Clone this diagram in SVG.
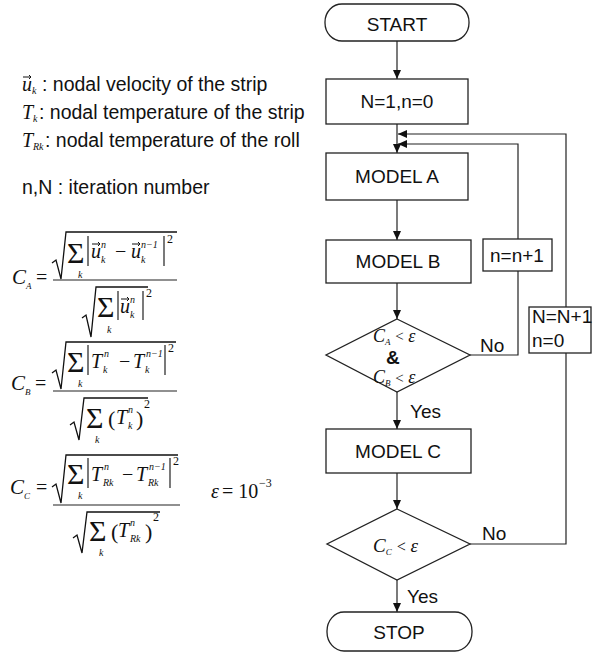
<svg xmlns="http://www.w3.org/2000/svg" width="594" height="653" viewBox="0 0 594 653">
<defs>
<style>
.s{font-family:"Liberation Sans",Arial,sans-serif;font-size:19.5px;fill:#111}
.f{font-family:"Liberation Sans",Arial,sans-serif;font-size:19px;fill:#111}
.m{font-family:"Liberation Serif","Times New Roman",serif;font-style:italic;fill:#111}
.r{font-family:"Liberation Serif","Times New Roman",serif;fill:#111}
.box{fill:#fff;stroke:#222;stroke-width:1.3}
.ln{fill:none;stroke:#222;stroke-width:1.2}
.rad{fill:none;stroke:#111;stroke-width:1.3;stroke-linejoin:miter}
.vec{fill:none;stroke:#111;stroke-width:1}
</style>
<marker id="ah" markerUnits="userSpaceOnUse" markerWidth="10" markerHeight="8" refX="9" refY="4" orient="auto">
<path d="M0 0 L9 4 L0 8 Z" fill="#111"/>
</marker>
</defs>
<rect width="594" height="653" fill="#fff"/>

<g id="legend">
<text class="m" x="22" y="91" font-size="20">u</text>
<path class="vec" d="M23 77 h8 M29 75 l2 2 l-2 2"/>
<text class="m" x="32" y="94" font-size="10">k</text>
<text class="s" x="42" y="91">: nodal velocity of the strip</text>
<text class="m" x="22" y="119" font-size="20">T</text>
<text class="m" x="33" y="122" font-size="10">k</text>
<text class="s" x="39" y="119">: nodal temperature of the strip</text>
<text class="m" x="22" y="147" font-size="20">T</text>
<text class="m" x="33" y="150" font-size="10">Rk</text>
<text class="s" x="45" y="147">: nodal temperature of the roll</text>
<text class="s" x="22" y="194">n,N : iteration number</text>
</g>

<g id="formula-CA">
<text class="m" x="12" y="284" font-size="21">C</text>
<text class="m" x="26" y="289" font-size="9">A</text>
<text class="r" x="36" y="284" font-size="20">=</text>
<path class="ln" d="M53 280 H177"/>
<path class="rad" d="M52 263 L56 260 L61 279 L66 232 H177"/>
<text class="r" x="67" y="263" font-size="30">Σ</text>
<text class="m" x="78" y="278" font-size="10">k</text>
<path class="ln" d="M88 236 V266 M164 236 V266"/>
<text class="m" x="91" y="258" font-size="20">u</text>
<path class="vec" d="M92 244 h8 M98 242 l2 2 l-2 2"/>
<text class="m" x="101" y="248" font-size="10">n</text>
<text class="m" x="101" y="263" font-size="10">k</text>
<text class="r" x="115" y="258" font-size="20">−</text>
<text class="m" x="131" y="258" font-size="20">u</text>
<path class="vec" d="M132 244 h8 M138 242 l2 2 l-2 2"/>
<text class="m" x="141" y="248" font-size="10">n−1</text>
<text class="m" x="141" y="263" font-size="10">k</text>
<text class="r" x="167" y="243" font-size="12">2</text>
<path class="rad" d="M82 318 L86 315 L91 337 L96 287 H148"/>
<text class="r" x="97" y="317" font-size="30">Σ</text>
<text class="m" x="107" y="333" font-size="10">k</text>
<path class="ln" d="M118 291 V320 M143 291 V320"/>
<text class="m" x="120" y="313" font-size="20">u</text>
<path class="vec" d="M121 299 h8 M127 297 l2 2 l-2 2"/>
<text class="m" x="130" y="303" font-size="10">n</text>
<text class="m" x="130" y="318" font-size="10">k</text>
<text class="r" x="146" y="297" font-size="12">2</text>
</g>

<g id="formula-CB">
<text class="m" x="11" y="390" font-size="21">C</text>
<text class="m" x="25" y="395" font-size="9">B</text>
<text class="r" x="35" y="390" font-size="20">=</text>
<path class="ln" d="M53 391 H177"/>
<path class="rad" d="M52 373 L56 370 L61 389 L66 342 H176"/>
<text class="r" x="67" y="372" font-size="30">Σ</text>
<text class="m" x="78" y="387" font-size="10">k</text>
<path class="ln" d="M88 345 V375 M165 345 V375"/>
<text class="m" x="91" y="368" font-size="20">T</text>
<text class="m" x="104" y="357" font-size="10">n</text>
<text class="m" x="103" y="373" font-size="10">k</text>
<text class="r" x="119" y="368" font-size="20">−</text>
<text class="m" x="133" y="368" font-size="20">T</text>
<text class="m" x="146" y="357" font-size="10">n−1</text>
<text class="m" x="145" y="373" font-size="10">k</text>
<text class="r" x="168" y="352" font-size="12">2</text>
<path class="rad" d="M70 425 L74 422 L79 440 L84 398 H148"/>
<text class="r" x="86" y="428" font-size="30">Σ</text>
<text class="m" x="95" y="443" font-size="10">k</text>
<text class="r" x="108" y="426" font-size="22">(</text>
<text class="m" x="116" y="424" font-size="20">T</text>
<text class="m" x="128" y="413" font-size="10">n</text>
<text class="m" x="128" y="429" font-size="10">k</text>
<text class="r" x="136" y="426" font-size="22">)</text>
<text class="r" x="144" y="408" font-size="12">2</text>
</g>

<g id="formula-CC">
<text class="m" x="10" y="494" font-size="21">C</text>
<text class="m" x="24" y="499" font-size="9">C</text>
<text class="r" x="36" y="494" font-size="20">=</text>
<path class="ln" d="M53 505 H180"/>
<path class="rad" d="M52 487 L56 484 L61 503 L66 455 H178"/>
<text class="r" x="67" y="484" font-size="30">Σ</text>
<text class="m" x="78" y="499" font-size="10">k</text>
<path class="ln" d="M88 458 V488 M170 458 V488"/>
<text class="m" x="91" y="481" font-size="20">T</text>
<text class="m" x="104" y="470" font-size="10">n</text>
<text class="m" x="103" y="486" font-size="10">Rk</text>
<text class="r" x="122" y="481" font-size="20">−</text>
<text class="m" x="136" y="481" font-size="20">T</text>
<text class="m" x="149" y="470" font-size="10">n−1</text>
<text class="m" x="148" y="486" font-size="10">Rk</text>
<text class="r" x="173" y="465" font-size="12">2</text>
<path class="rad" d="M73 538 L77 535 L82 553 L87 512 H160"/>
<text class="r" x="89" y="541" font-size="30">Σ</text>
<text class="m" x="99" y="556" font-size="10">k</text>
<text class="r" x="111" y="539" font-size="22">(</text>
<text class="m" x="118" y="537" font-size="20">T</text>
<text class="m" x="130" y="526" font-size="10">n</text>
<text class="m" x="130" y="542" font-size="10">Rk</text>
<text class="r" x="145" y="539" font-size="22">)</text>
<text class="r" x="153" y="521" font-size="12">2</text>
<text class="m" x="211" y="498" font-size="20">ε</text>
<text class="r" x="222" y="498" font-size="20">= 10</text>
<text class="r" x="259" y="487" font-size="12">−3</text>
</g>

<g id="connectors">
<path class="ln" d="M397 41 V79" marker-end="url(#ah)"/>
<path class="ln" d="M397 124 V153" marker-end="url(#ah)"/>
<path class="ln" d="M397 200 V240" marker-end="url(#ah)"/>
<path class="ln" d="M397 283 V319" marker-end="url(#ah)"/>
<path class="ln" d="M397 392 V429" marker-end="url(#ah)"/>
<path class="ln" d="M397 473 V509" marker-end="url(#ah)"/>
<path class="ln" d="M397 580 V612" marker-end="url(#ah)"/>
<path class="ln" d="M470 355 H518 V271"/>
<path class="ln" d="M518 239 V144 H398" marker-end="url(#ah)"/>
<path class="ln" d="M470 544 H566 V353"/>
<path class="ln" d="M566 307 V134 H398" marker-end="url(#ah)"/>
<text class="f" x="480" y="352">No</text>
<text class="f" x="410" y="418">Yes</text>
<text class="f" x="482" y="540">No</text>
<text class="f" x="407" y="603">Yes</text>
</g>

<g id="start">
<rect class="box" x="325" y="4" width="144" height="37" rx="17" ry="18"/>
<text class="f" x="397" y="31" text-anchor="middle">START</text>
</g>
<g id="init">
<rect class="box" x="326" y="79" width="142" height="45"/>
<text class="f" x="397" y="108" text-anchor="middle">N=1,n=0</text>
</g>
<g id="modelA">
<rect class="box" x="326" y="153" width="142" height="47"/>
<text class="f" x="397" y="183" text-anchor="middle">MODEL A</text>
</g>
<g id="modelB">
<rect class="box" x="326" y="240" width="145" height="43"/>
<text class="f" x="398" y="268" text-anchor="middle">MODEL B</text>
</g>
<g id="incn">
<rect class="box" x="483" y="239" width="69" height="32"/>
<text class="f" x="517" y="262" text-anchor="middle">n=n+1</text>
</g>
<g id="decision1">
<path class="box" d="M397 319 L470 355 L397 392 L326 355 Z"/>
<text class="m" x="373" y="342" font-size="18">C<tspan font-size="9" dy="3">A</tspan><tspan dy="-4" font-size="15"> &lt; </tspan><tspan dy="1" font-size="18">ε</tspan></text>
<text class="f" x="386" y="364" font-weight="bold" font-size="17">&amp;</text>
<text class="m" x="373" y="383" font-size="18">C<tspan font-size="9" dy="3">B</tspan><tspan dy="-3" font-size="15"> &lt; </tspan><tspan font-size="18">ε</tspan></text>
</g>
<g id="incN">
<rect class="box" x="529" y="307" width="62" height="46"/>
<text class="f" x="532" y="323" font-size="18">N=N+1</text>
<text class="f" x="532" y="347" font-size="18">n=0</text>
</g>
<g id="modelC">
<rect class="box" x="326" y="429" width="145" height="44"/>
<text class="f" x="398" y="458" text-anchor="middle">MODEL C</text>
</g>
<g id="decision2">
<path class="box" d="M397 509 L470 544 L397 580 L327 544 Z"/>
<text class="m" x="373" y="552" font-size="19">C<tspan font-size="9" dy="3">C</tspan><tspan dy="-3" font-size="16"> &lt; </tspan><tspan font-size="19">ε</tspan></text>
</g>
<g id="stop">
<rect class="box" x="327" y="612" width="145" height="39" rx="17" ry="19"/>
<text class="f" x="399" y="639" text-anchor="middle">STOP</text>
</g>
</svg>
